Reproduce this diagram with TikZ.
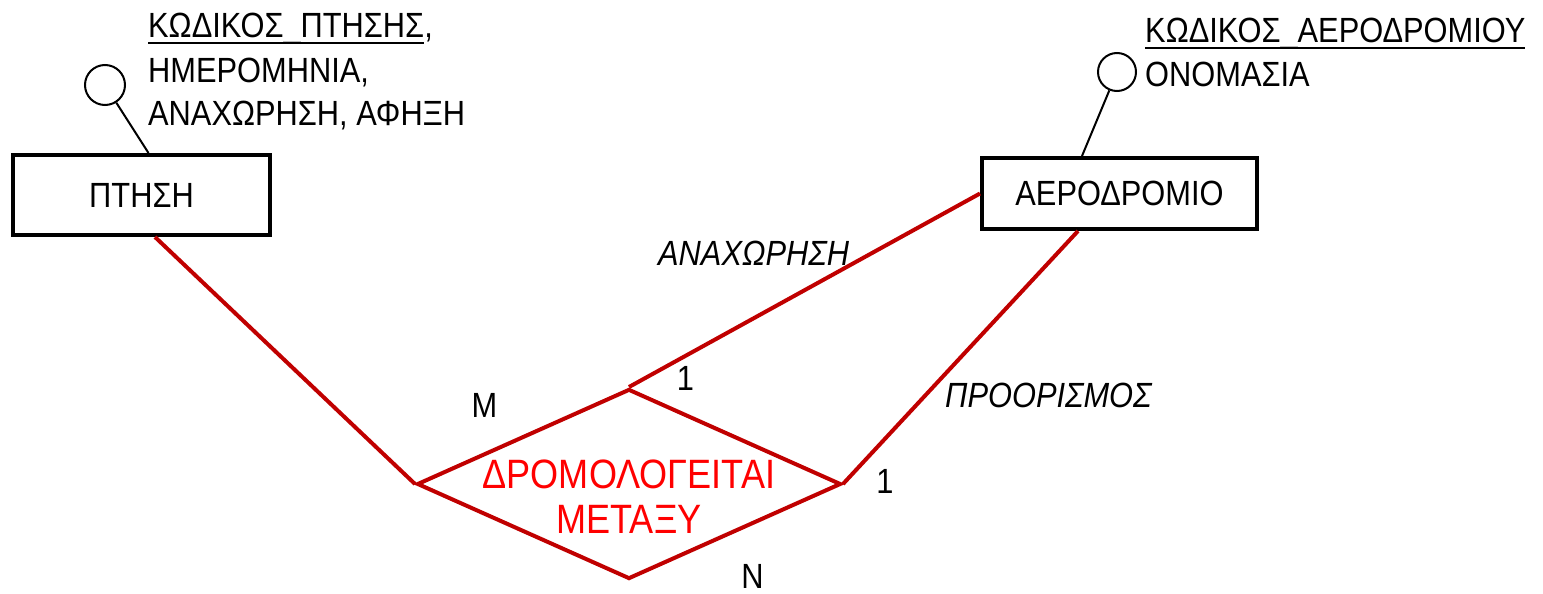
\documentclass[tikz,border=0pt]{standalone}
\usepackage{fontspec}
\setmainfont[FakeStretch=0.88]{Liberation Sans}
\usepackage{xcolor}
\usetikzlibrary{shapes.geometric}
\definecolor{relred}{RGB}{192,0,0}
\newcommand{\pkey}[1]{\setbox0\hbox{#1}\rlap{\vrule height -4pt depth 6pt width \wd0}\box0}

\begin{document}
\begin{tikzpicture}[x=1pt,y=-1pt,
                txt/.style={inner sep=0pt,font=\fontsize{35}{42}\selectfont},
                entity/.style={draw,line width=4pt,inner sep=0pt,font=\fontsize{35}{42}\selectfont},
                attr/.style={draw,circle,line width=2pt,inner sep=0pt},
                conn/.style={draw=relred,line width=4pt}]
                \useasboundingbox (0,0) rectangle (1543,594);
                \node[entity,minimum width=257pt,minimum height=80pt] (ptisi) at (141.5,195) {ΠΤΗΣΗ};
                \node[entity,minimum width=275pt,minimum height=71pt] (aerodromio) at (1119.5,193.5) {ΑΕΡΟΔΡΟΜΙΟ};
                \node[attr,minimum size=40pt] (a1) at (105,85) {};
                \node[attr,minimum size=38pt] (a2) at (1117,72) {};
                \draw[line width=2pt] (a1) -- ([xshift=7pt]ptisi.north);
                \draw[line width=2pt] (a2) -- ([xshift=-37.5pt]aerodromio.north);
                \node[txt,anchor=base west] (k1) at (148,38) {\pkey{ΚΩΔΙΚΟΣ\_ΠΤΗΣΗΣ},};
                \node[txt,anchor=base west] (k2) at (148,83) {ΗΜΕΡΟΜΗΝΙΑ,};
                \node[txt,anchor=base west] (k3) at (148,125) {ΑΝΑΧΩΡΗΣΗ, ΑΦΗΞΗ};
                \node[txt,anchor=base west] (k4) at (1145,43) {\pkey{ΚΩΔΙΚΟΣ\_ΑΕΡΟΔΡΟΜΙΟΥ}};
                \node[txt,anchor=base west] (k5) at (1145,86) {ΟΝΟΜΑΣΙΑ};
                \node[diamond,conn,inner sep=0pt,minimum width=424pt,minimum height=190pt] (rel) at (629,484) {};
                \node[inner sep=0pt,align=center,text=red,font=\fontsize{41}{45}\selectfont] (relname) at (629,497) {ΔΡΟΜΟΛΟΓΕΙΤΑΙ\\ΜΕΤΑΞΥ};
                \draw[conn] ([xshift=13.5pt]ptisi.south) -- (rel.west);
                \draw[conn] (aerodromio.west) -- (rel.north);
                \draw[conn] ([xshift=-41.5pt]aerodromio.south) -- (rel.east);
                \node[txt,anchor=base west,font=\fontsize{35}{42}\selectfont\itshape] (dep) at (658,265) {ΑΝΑΧΩΡΗΣΗ};
                \node[txt,anchor=base west,font=\fontsize{35}{42}\selectfont\itshape] (dest) at (945,407) {ΠΡΟΟΡΙΣΜΟΣ};
                \node[txt,anchor=base] (cm) at (484.5,417) {M};
                \node[txt,anchor=base] (c1) at (685.5,390) {1};
                \node[txt,anchor=base] (c2) at (885,493) {1};
                \node[txt,anchor=base] (cn) at (752.5,588) {N};
            \end{tikzpicture}
\end{document}
